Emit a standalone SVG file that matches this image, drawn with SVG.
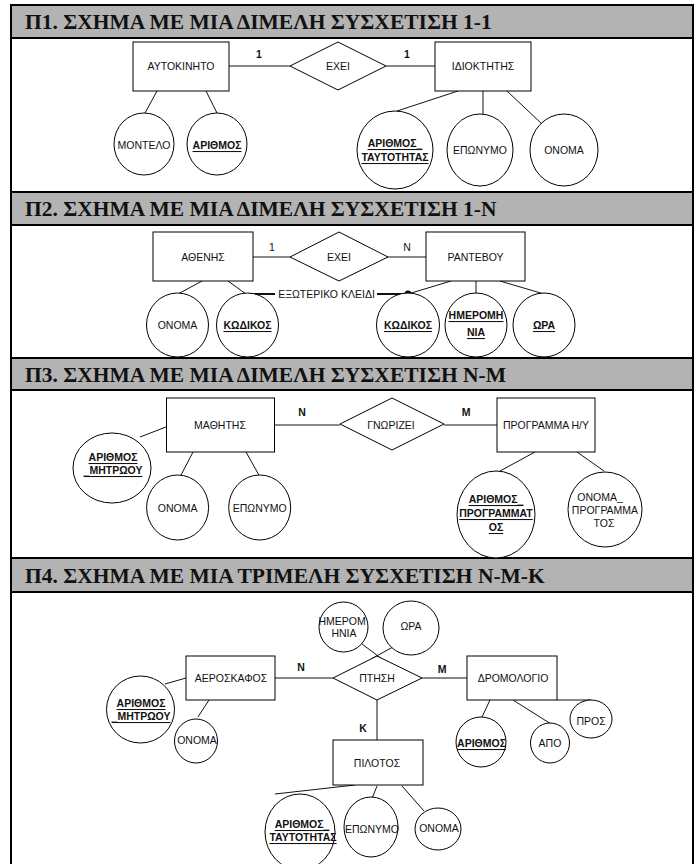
<svg xmlns="http://www.w3.org/2000/svg" width="696" height="864" viewBox="0 0 696 864">
<style>
.bg{fill:#ffffff}
.hdr{fill:#b3b3b3;stroke:#000;stroke-width:2}
.frame{fill:none;stroke:#000;stroke-width:2}
.ttl{font-family:"Liberation Serif","Times New Roman",serif;font-weight:bold;font-size:21.5px;fill:#111}
.s{fill:#fff;stroke:#000;stroke-width:1}
.t{font-family:"Liberation Sans",Arial,sans-serif;font-size:10.5px;fill:#111;text-anchor:middle;dominant-baseline:central}
.k{font-weight:bold;text-decoration:underline}
.b{font-weight:bold}
.ln{stroke:#111;stroke-width:1;fill:none}
.fk{stroke:#111;stroke-width:2;fill:none}
</style>
<rect class="bg" x="0" y="0" width="696" height="864"/>

<g id="headers">
<rect class="hdr" x="11" y="5" width="682" height="33"/>
<text class="ttl" x="25" y="29">Π1. ΣΧΗΜΑ ΜΕ ΜΙΑ ΔΙΜΕΛΗ ΣΥΣΧΕΤΙΣΗ 1-1</text>
<rect class="hdr" x="11" y="192" width="682" height="33"/>
<text class="ttl" x="25" y="216">Π2. ΣΧΗΜΑ ΜΕ ΜΙΑ ΔΙΜΕΛΗ ΣΥΣΧΕΤΙΣΗ 1-Ν</text>
<rect class="hdr" x="11" y="358" width="682" height="32"/>
<text class="ttl" x="25" y="382">Π3. ΣΧΗΜΑ ΜΕ ΜΙΑ ΔΙΜΕΛΗ ΣΥΣΧΕΤΙΣΗ Ν-Μ</text>
<rect class="hdr" x="11" y="558" width="682" height="34"/>
<text class="ttl" x="25" y="583">Π4. ΣΧΗΜΑ ΜΕ ΜΙΑ ΤΡΙΜΕΛΗ ΣΥΣΧΕΤΙΣΗ Ν-Μ-Κ</text>
</g>
<path class="frame" d="M11,5 V866 M693,5 V866"/>

<g id="connectors">
<path class="ln" d="M229,66 H290 M386,66 H435"/>
<path class="ln" d="M157,91 L145,113 M206,91 L217,113"/>
<path class="ln" d="M458,91 L397,111 M483,91 V114 M507,91 L542,124"/>
<text class="t b" x="259" y="54">1</text>
<text class="t b" x="407" y="54">1</text>
<path class="ln" d="M253,257 H290 M388,257 H426"/>
<path class="ln" d="M202,281 L178,294 M228,281 L246,294"/>
<path class="fk" d="M246,294 H275 M377,294 H408"/>
<circle cx="408" cy="294" r="3.5" fill="#000"/>
<path class="ln" d="M408,294 L451,281 M476,281 V294 M500,281 L544,294"/>
<text class="t" x="326.5" y="294">ΕΞΩΤΕΡΙΚΟ ΚΛΕΙΔΙ</text>
<text class="t" x="272" y="247">1</text>
<text class="t" x="407" y="247">N</text>
<path class="ln" d="M274,425 H340 M444,425 H497"/>
<path class="ln" d="M166,427 L140,437 M193,452 L180,477 M246,452 L260,477"/>
<path class="ln" d="M535,452 L500,471 M577,452 L604,471"/>
<text class="t b" x="302" y="412">N</text>
<text class="t b" x="466" y="412">M</text>
<path class="ln" d="M362,644 L382,659 M393,647 L371,659"/>
<path class="ln" d="M275,678 H333 M422,678 H467 M377,700 V740"/>
<path class="ln" d="M186,678 L165,684 M209,700 L198,717"/>
<path class="ln" d="M490,700 L482,717 M513,700 L551,724 M557,700 H591"/>
<path class="ln" d="M355,785 L275,794 M377,786 L371,801 M402,786 L424,811"/>
<text class="t b" x="301" y="667">N</text>
<text class="t b" x="442" y="669">M</text>
<text class="t b" x="363" y="728">K</text>
</g>

<g id="s1-autokinito"><rect class="s" x="133" y="42" width="96" height="49"/><text class="t" x="181" y="66">ΑΥΤΟΚΙΝΗΤΟ</text></g>
<g id="s1-exei"><polygon class="s" points="290,66 338,42 386,66 338,90"/><text class="t" x="338" y="66">ΕΧΕΙ</text></g>
<g id="s1-idioktitis"><rect class="s" x="435" y="42" width="96" height="49"/><text class="t" x="483" y="66">ΙΔΙΟΚΤΗΤΗΣ</text></g>
<g id="s1-montelo"><ellipse class="s" cx="144" cy="144" rx="30" ry="31"/><text class="t" x="144" y="145">ΜΟΝΤΕΛΟ</text></g>
<g id="s1-arithmos"><ellipse class="s" cx="217" cy="144" rx="30" ry="31"/><text class="t k" x="217" y="145">ΑΡΙΘΜΟΣ</text></g>
<g id="s1-at"><ellipse class="s" cx="395" cy="150" rx="38" ry="39"/><text class="t k" x="395" y="143">ΑΡΙΘΜΟΣ_</text><text class="t k" x="395" y="157">ΤΑΥΤΟΤΗΤΑΣ</text></g>
<g id="s1-eponymo"><ellipse class="s" cx="480" cy="150" rx="33" ry="36"/><text class="t" x="480" y="150">ΕΠΩΝΥΜΟ</text></g>
<g id="s1-onoma"><ellipse class="s" cx="564" cy="150" rx="34" ry="36"/><text class="t" x="564" y="150">ΟΝΟΜΑ</text></g>

<g id="s2-athenis"><rect class="s" x="153" y="232" width="100" height="49"/><text class="t" x="203" y="257">ΑΘΕΝΗΣ</text></g>
<g id="s2-exei"><polygon class="s" points="290,257 339,232 388,257 339,281"/><text class="t" x="339" y="257">ΕΧΕΙ</text></g>
<g id="s2-rantevou"><rect class="s" x="426" y="232" width="99" height="49"/><text class="t" x="475.5" y="257">ΡΑΝΤΕΒΟΥ</text></g>
<g id="s2-onoma"><ellipse class="s" cx="177.5" cy="325" rx="31" ry="32"/><text class="t" x="177.5" y="325">ΟΝΟΜΑ</text></g>
<g id="s2-kodikos1"><ellipse class="s" cx="247.5" cy="325" rx="31" ry="32"/><text class="t k" x="247.5" y="325">ΚΩΔΙΚΟΣ</text></g>
<g id="s2-kodikos2"><ellipse class="s" cx="408" cy="325" rx="31.5" ry="32"/><text class="t k" x="408" y="325">ΚΩΔΙΚΟΣ</text></g>
<g id="s2-imerominia"><ellipse class="s" cx="476" cy="325" rx="31" ry="32"/><text class="t k" x="476" y="315">ΗΜΕΡΟΜΗ</text><text class="t k" x="476" y="332">ΝΙΑ</text></g>
<g id="s2-ora"><ellipse class="s" cx="544" cy="325" rx="31" ry="32"/><text class="t k" x="544" y="325">ΩΡΑ</text></g>

<g id="s3-mathitis"><rect class="s" x="166.5" y="398" width="108" height="54"/><text class="t" x="220" y="425">ΜΑΘΗΤΗΣ</text></g>
<g id="s3-gnorizei"><polygon class="s" points="340,424 392,398 444,424 392,450"/><text class="t" x="391" y="425">ΓΝΩΡΙΖΕΙ</text></g>
<g id="s3-programma"><rect class="s" x="497" y="398" width="98" height="54"/><text class="t" x="546" y="425">ΠΡΟΓΡΑΜΜΑ Η/Υ</text></g>
<g id="s3-am"><ellipse class="s" cx="112" cy="468" rx="39" ry="35"/><text class="t k" x="113" y="457">ΑΡΙΘΜΟΣ</text><text class="t k" x="113" y="470">_ΜΗΤΡΩΟΥ</text></g>
<g id="s3-onoma"><ellipse class="s" cx="177.6" cy="507.5" rx="31" ry="32.5"/><text class="t" x="177.6" y="508">ΟΝΟΜΑ</text></g>
<g id="s3-eponymo"><ellipse class="s" cx="259.7" cy="507.5" rx="31" ry="32.5"/><text class="t" x="259.7" y="508">ΕΠΩΝΥΜΟ</text></g>
<g id="s3-ap"><ellipse class="s" cx="496" cy="514.5" rx="39" ry="43.5"/><text class="t k" x="496" y="499">ΑΡΙΘΜΟΣ_</text><text class="t k" x="496" y="513">ΠΡΟΓΡΑΜΜΑΤ</text><text class="t k" x="496" y="527">ΟΣ</text></g>
<g id="s3-op"><ellipse class="s" cx="605" cy="509.5" rx="37" ry="37.5"/><text class="t" x="600" y="497">ΟΝΟΜΑ_</text><text class="t" x="605" y="510">ΠΡΟΓΡΑΜΜΑ</text><text class="t" x="604" y="523">ΤΟΣ</text></g>

<g id="s4-imerominia"><ellipse class="s" cx="343.5" cy="627" rx="24.5" ry="25"/><text class="t" x="342" y="621">ΗΜΕΡΟΜ</text><text class="t" x="344" y="633">ΗΝΙΑ</text></g>
<g id="s4-ora"><ellipse class="s" cx="411" cy="628" rx="28" ry="27"/><text class="t" x="411" y="626">ΩΡΑ</text></g>
<g id="s4-ptisi"><polygon class="s" points="333,678 377,656 422,678 377,700"/><text class="t" x="377" y="678">ΠΤΗΣΗ</text></g>
<g id="s4-aeroskafos"><rect class="s" x="186" y="656" width="89" height="44"/><text class="t" x="231" y="678">ΑΕΡΟΣΚΑΦΟΣ</text></g>
<g id="s4-dromologio"><rect class="s" x="467" y="656" width="90" height="44"/><text class="t" x="513" y="678">ΔΡΟΜΟΛΟΓΙΟ</text></g>
<g id="s4-pilotos"><rect class="s" x="333" y="740" width="90" height="45"/><text class="t" x="377" y="763">ΠΙΛΟΤΟΣ</text></g>
<g id="s4-am"><ellipse class="s" cx="140.5" cy="709.5" rx="34" ry="33.5"/><text class="t k" x="141" y="703">ΑΡΙΘΜΟΣ</text><text class="t k" x="141" y="716">_ΜΗΤΡΩΟΥ</text></g>
<g id="s4-onoma"><ellipse class="s" cx="196" cy="741" rx="21.5" ry="22"/><text class="t" x="197" y="740">ΟΝΟΜΑ</text></g>
<g id="s4-arithmos"><ellipse class="s" cx="481" cy="742" rx="25" ry="25"/><text class="t k" x="481.5" y="743">ΑΡΙΘΜΟΣ</text></g>
<g id="s4-apo"><ellipse class="s" cx="550" cy="743" rx="19.5" ry="20"/><text class="t" x="550" y="743">ΑΠΟ</text></g>
<g id="s4-pros"><ellipse class="s" cx="591" cy="719" rx="21" ry="19"/><text class="t" x="591" y="721">ΠΡΟΣ</text></g>
<g id="s4-at"><ellipse class="s" cx="300" cy="832" rx="35" ry="38"/><text class="t k" x="302" y="824">ΑΡΙΘΜΟΣ_</text><text class="t k" x="303" y="837">ΤΑΥΤΟΤΗΤΑΣ</text></g>
<g id="s4-eponymo"><ellipse class="s" cx="371" cy="827" rx="27" ry="30"/><text class="t" x="372" y="829">ΕΠΩΝΥΜΟ</text></g>
<g id="s4-onoma2"><ellipse class="s" cx="438" cy="829" rx="23" ry="21"/><text class="t" x="439" y="828">ΟΝΟΜΑ</text></g>
</svg>
